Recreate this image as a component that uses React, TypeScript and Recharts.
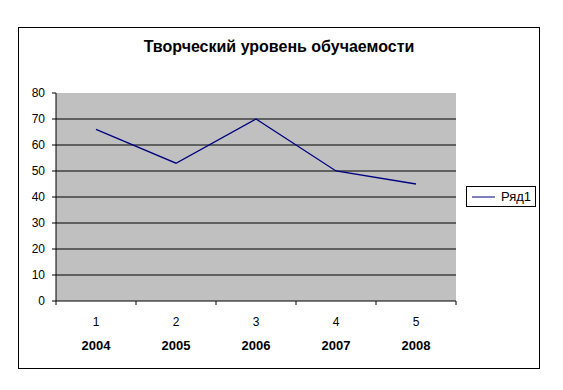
import React from 'react';
import { LineChart, Line, XAxis, YAxis, CartesianGrid, Legend } from 'recharts';

const title = 'Творческий уровень обучаемости';
const seriesName = 'Ряд1';
const categories = [1, 2, 3, 4, 5];
const years = ['2004', '2005', '2006', '2007', '2008'];
const values = [66, 53, 70, 50, 45];
const yTicks = [0, 10, 20, 30, 40, 50, 60, 70, 80];
const gridValues = [10, 20, 30, 40, 50, 60, 70];

const data = categories.map((c, i) => ({ x: c, year: years[i], value: values[i] }));
// category centres plus the boundaries between them (where the tick marks go)
const xTicks: number[] = [categories[0] - 0.5];
categories.forEach((c) => {
  xTicks.push(c);
  xTicks.push(c + 0.5);
});

const FONT = 'Arial, "Liberation Sans", sans-serif';

const CategoryTick = (props: any) => {
  const { x, y, payload } = props;
  const v = payload.value as number;
  if (!Number.isInteger(v)) {
    return <line x1={x} x2={x} y1={y} y2={y + 4} stroke="#000" strokeWidth={1} />;
  }
  const idx = categories.indexOf(v);
  return (
    <g>
      <text x={x} y={y + 25} textAnchor="middle" fontSize={12} fill="#000" fontFamily={FONT}>
        {v}
      </text>
      <text x={x} y={y + 49} textAnchor="middle" fontSize={13} fontWeight="bold" fill="#000" fontFamily={FONT}>
        {years[idx]}
      </text>
    </g>
  );
};

const LegendBox = () => (
  <div
    style={{
      border: '1px solid #000',
      background: '#fff',
      width: 70,
      height: 21,
      display: 'flex',
      alignItems: 'center',
      fontFamily: FONT,
      fontSize: 13,
      color: '#000',
      boxSizing: 'border-box',
    }}
  >
    <svg width={29} height={10} style={{ marginLeft: 5 }}>
      <line x1={0} x2={23} y1={5} y2={5} stroke="#000080" strokeWidth={1} />
    </svg>
    <span>{seriesName}</span>
  </div>
);

export default function App() {
  return (
    <div style={{ position: 'absolute', left: 0, top: 0, width: 563, height: 390, background: '#fff' }}>
      <div
        style={{
          position: 'absolute',
          left: 18,
          top: 27,
          width: 520,
          height: 340,
          border: '1px solid #000',
        }}
      />
      <div
        style={{
          position: 'absolute',
          left: 0,
          width: 558,
          top: 38,
          textAlign: 'center',
          fontFamily: FONT,
          fontSize: 16,
          fontWeight: 'bold',
          color: '#000',
        }}
      >
        {title}
      </div>
      <div style={{ position: 'absolute', left: 0, top: 0 }}>
        <LineChart width={563} height={390} data={data} margin={{ top: 93, right: 107, bottom: 29, left: 0 }}>
          <CartesianGrid
            vertical={false}
            horizontalValues={gridValues}
            stroke="#000"
            fill="#C0C0C0"
            fillOpacity={1}
          />
          <XAxis
            dataKey="x"
            type="number"
            domain={[xTicks[0], xTicks[xTicks.length - 1]]}
            ticks={xTicks}
            interval={0}
            tickLine={false}
            tickSize={0}
            tickMargin={0}
            axisLine={{ stroke: '#000' }}
            tick={<CategoryTick />}
            height={60}
          />
          <YAxis
            domain={[0, 80]}
            ticks={yTicks}
            interval={0}
            width={56}
            tickSize={4}
            tickMargin={7}
            tickLine={{ stroke: '#000' }}
            axisLine={{ stroke: '#000' }}
            tick={{ fill: '#000', fontSize: 12, fontFamily: FONT }}
          />
          <Legend
            layout="vertical"
            align="center"
            verticalAlign="middle"
            content={<LegendBox />}
            wrapperStyle={{ left: 466, top: 186, width: 70 }}
          />
          <Line
            type="linear"
            dataKey="value"
            name={seriesName}
            stroke="#000080"
            strokeWidth={1.3}
            dot={false}
            activeDot={false}
            isAnimationActive={false}
          />
        </LineChart>
      </div>
    </div>
  );
}
